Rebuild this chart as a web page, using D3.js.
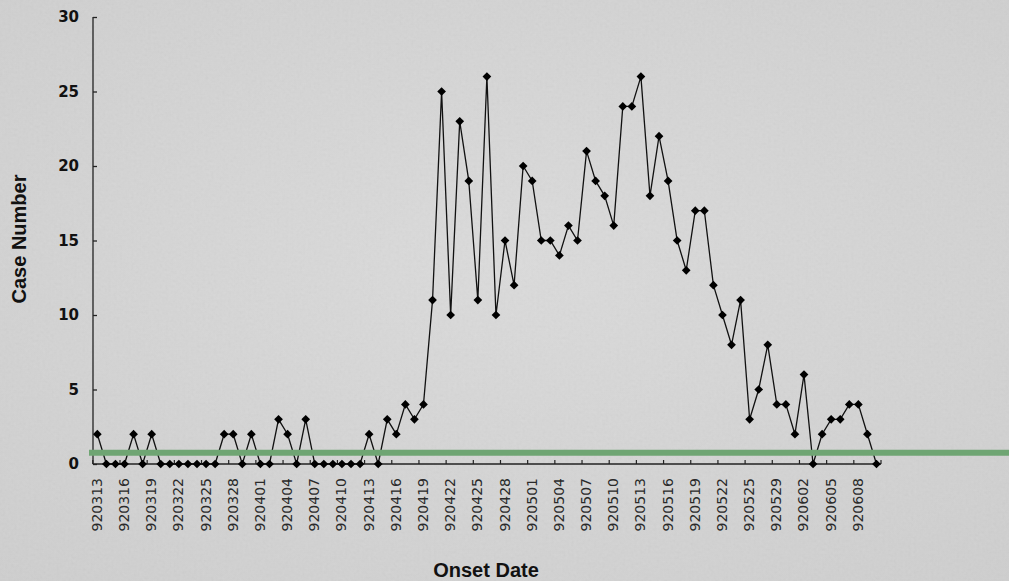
<!DOCTYPE html>
<html>
<head>
<meta charset="utf-8">
<script src="https://cdn.jsdelivr.net/npm/d3@7"></script>
<style>
  html, body { margin: 0; padding: 0; background: #d6d6d6; }
  svg { display: block; }
</style>
</head>
<body>
<svg id="chart" width="1009" height="581"></svg>
<script>
const dates = ["920313","920314","920315","920316","920317","920318","920319","920320","920321","920322","920323","920324","920325","920326","920327","920328","920329","920330","920401","920402","920403","920404","920405","920406","920407","920408","920409","920410","920411","920412","920413","920414","920415","920416","920417","920418","920419","920420","920421","920422","920423","920424","920425","920426","920427","920428","920429","920430","920501","920502","920503","920504","920505","920506","920507","920508","920509","920510","920511","920512","920513","920514","920515","920516","920517","920518","920519","920520","920521","920522","920523","920524","920525","920526","920527","920529","920530","920531","920602","920603","920604","920605","920606","920607","920608","920609","920610"];
const cases = [2,0,0,0,2,0,2,0,0,0,0,0,0,0,2,2,0,2,0,0,3,2,0,3,0,0,0,0,0,0,2,0,
  3,2,4,3,4,11,25,10,23,19,11,26,10,15,12,20,19,15,15,14,16,15,21,19,18,16,24,24,26,18,22,19,
  15,13,17,17,12,10,8,11,3,5,8,4,4,2,6,0,2,3,3,4,4,2,0];
const yTicks = [0,5,10,15,20,25,30];
const labelEvery = 3;
const threshold = 0.75;

const svg = d3.select("#chart");
const W = 1009, H = 581;

// background
const defs = svg.append("defs");
const rg = defs.append("radialGradient").attr("id","bg").attr("cx","50%").attr("cy","45%").attr("r","75%");
rg.append("stop").attr("offset","0%").attr("stop-color","#dcdcdc");
rg.append("stop").attr("offset","100%").attr("stop-color","#cfcfcf");
const f = defs.append("filter").attr("id","noise").attr("x",0).attr("y",0).attr("width","100%").attr("height","100%");
f.append("feTurbulence").attr("type","fractalNoise").attr("baseFrequency","0.35").attr("numOctaves","3").attr("seed","3");
f.append("feColorMatrix").attr("type","matrix").attr("values","0.33 0.33 0.33 0 0  0.33 0.33 0.33 0 0  0.33 0.33 0.33 0 0  0 0 0 0 0.5");
svg.append("rect").attr("width",W).attr("height",H).attr("fill","url(#bg)");
svg.append("rect").attr("width",W).attr("height",H).attr("filter","url(#noise)").attr("opacity",0.12);

const x = d3.scaleBand().domain(dates).range([92.8, 881]);
const y = d3.scaleLinear().domain([0,30]).range([464, 17]);
const step = x.step();

// y axis
const yAxis = svg.append("g").attr("transform","translate(93,0)")
  .call(d3.axisLeft(y).tickValues(yTicks).tickSize(-4).tickPadding(14));
yAxis.select(".domain").attr("d", `M0,${y(30)}V${y(0)}`).attr("stroke","#222").attr("stroke-width",1.3);
yAxis.selectAll(".tick line").attr("stroke","#222").attr("stroke-width",1.3);
yAxis.selectAll(".tick text").attr("font-family","DejaVu Sans").attr("font-weight","bold")
  .attr("font-size","15px").attr("fill","#111").attr("x",-14);

// x axis
const xg = svg.append("g").attr("transform",`translate(0,${y(0)})`);
xg.append("line").attr("x1",x.range()[0]).attr("x2",x.range()[1]).attr("stroke","#222").attr("stroke-width",1.3);
const tickIdx = d3.range(0, dates.length + 1, labelEvery);
xg.selectAll("line.tk").data(tickIdx).join("line").attr("class","tk")
  .attr("x1", i => x.range()[0] + i*step).attr("x2", i => x.range()[0] + i*step)
  .attr("y1",0).attr("y2",-4).attr("stroke","#222").attr("stroke-width",1.2);
xg.selectAll("text").data(dates.filter((d,i) => i % labelEvery === 0)).join("text")
  .attr("transform", d => `translate(${x(d) + step/2 + 4.5},14) rotate(-90)`)
  .attr("text-anchor","end")
  .attr("font-family","DejaVu Sans").attr("font-size","14px").attr("fill","#2a2a2a")
  .text(d => d);

// line
const line = d3.line().x((d,i) => x(dates[i]) + step/2).y(d => y(d));
svg.append("path").datum(cases).attr("d", line).attr("fill","none").attr("stroke","#111").attr("stroke-width",1.3);
svg.selectAll("path.mk").data(cases).join("path").attr("class","mk")
  .attr("d", d3.symbol().type(d3.symbolSquare).size(38))
  .attr("transform", (d,i) => `translate(${x(dates[i]) + step/2},${y(d)}) rotate(45)`)
  .attr("fill","#000");

// threshold line
svg.append("line").attr("x1",89).attr("x2",W).attr("y1",y(threshold)).attr("y2",y(threshold))
  .attr("stroke","#6fa573").attr("stroke-width",6);

// axis titles
svg.append("text").attr("transform","translate(26,239) rotate(-90)").attr("text-anchor","middle")
  .attr("font-family","Liberation Sans, Arial").attr("font-weight","bold").attr("font-size","20px").attr("fill","#111")
  .text("Case Number");
svg.append("text").attr("x",486).attr("y",577).attr("text-anchor","middle")
  .attr("font-family","Liberation Sans, Arial").attr("font-weight","bold").attr("font-size","20px").attr("fill","#111")
  .text("Onset Date");
</script>
</body>
</html>
